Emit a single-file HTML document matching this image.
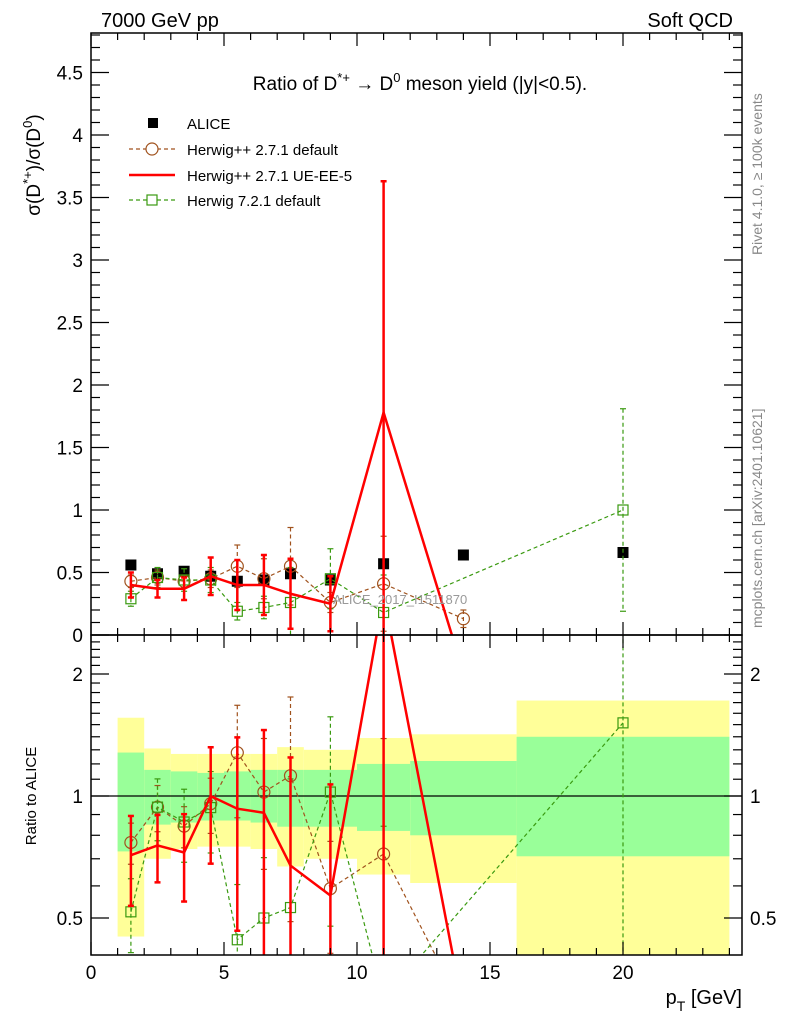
<!DOCTYPE html>
<html><head><meta charset="utf-8"><style>
html,body{margin:0;padding:0;background:#fff;overflow:hidden}
svg{display:block;font-family:"Liberation Sans",sans-serif}
</style></head><body>
<svg id="chart" width="786" height="1024" viewBox="0 0 786 1024">
<rect x="0" y="0" width="786" height="1024" fill="#fff"/>
<g id="bands"></g>
<g id="marks"></g>
<g id="axes"></g>
<text x="101" y="27" font-size="20">7000 GeV pp</text>
<text x="733" y="27" font-size="20" text-anchor="end">Soft QCD</text>
<text x="420" y="90" font-size="19" text-anchor="middle">Ratio of D<tspan dy="-8" font-size="13">*+</tspan><tspan dy="8"> → D</tspan><tspan dy="-8" font-size="13">0</tspan><tspan dy="8"> meson yield (|y|&lt;0.5).</tspan></text>
<g font-size="15">
 <rect x="148" y="118" width="10" height="10" fill="#000"/>
 <text x="187" y="129">ALICE</text>
 <line x1="129" y1="149" x2="175" y2="149" stroke="#a0521d" stroke-width="1.2" stroke-dasharray="4,3"/>
 <circle cx="152" cy="149" r="6" fill="#fff" stroke="#a0521d" stroke-width="1.2"/>
 <text x="187" y="155">Herwig++ 2.7.1 default</text>
 <line x1="129" y1="175" x2="175" y2="175" stroke="#f00" stroke-width="2.5"/>
 <text x="187" y="181">Herwig++ 2.7.1 UE-EE-5</text>
 <line x1="129" y1="200" x2="175" y2="200" stroke="#3a9a10" stroke-width="1.2" stroke-dasharray="4,3"/>
 <rect x="147" y="195" width="10" height="10" fill="#fff" stroke="#3a9a10" stroke-width="1.2"/>
 <text x="187" y="206">Herwig 7.2.1 default</text>
</g>
<text x="333" y="604" font-size="13" fill="#999">ALICE_2017_I1511870</text>
<text transform="translate(762,255) rotate(-90)" font-size="14" fill="#888">Rivet 4.1.0, ≥ 100k events</text>
<text transform="translate(762,628) rotate(-90)" font-size="14" fill="#888">mcplots.cern.ch [arXiv:2401.10621]</text>
<text transform="translate(40,165) rotate(-90)" font-size="19" text-anchor="middle">σ(D<tspan dy="-8" font-size="13">*+</tspan><tspan dy="8">)/σ(D</tspan><tspan dy="-8" font-size="13">0</tspan><tspan dy="8">)</tspan></text>
<text transform="translate(36,796) rotate(-90)" font-size="15" text-anchor="middle">Ratio to ALICE</text>
<text x="742" y="1004" font-size="20" text-anchor="end">p<tspan dy="7" font-size="14">T</tspan><tspan dy="-7"> [GeV]</tspan></text>
</svg>
<script>
const xCenters=[1.5,2.5,3.5,4.5,5.5,6.5,7.5,9,11,14,20];
const binLo=[1,2,3,4,5,6,7,8,10,12,16];
const binHi=[2,3,4,5,6,7,8,10,12,16,24];
const aliceVals=[0.56,0.49,0.51,0.47,0.43,0.44,0.49,0.44,0.57,0.64,0.66];
const bandYellowHi=[1.56,1.31,1.27,1.27,1.27,1.27,1.32,1.30,1.39,1.42,1.72];
const bandYellowLo=[0.45,0.70,0.74,0.75,0.75,0.74,0.67,0.70,0.64,0.61,0.30];
const bandGreenHi=[1.28,1.16,1.15,1.14,1.15,1.16,1.16,1.16,1.20,1.22,1.40];
const bandGreenLo=[0.73,0.85,0.86,0.87,0.87,0.86,0.84,0.84,0.82,0.80,0.71];
const hppX=[1.5,2.5,3.5,4.5,5.5,6.5,7.5,9,11,14];
const hppVals=[0.43,0.46,0.43,0.45,0.55,0.45,0.55,0.26,0.41,0.13];
const hppErr=[0.05,0.06,0.05,0.07,0.17,0.16,0.31,0.08,0.38,0.07];
const ueX=[1.5,2.5,3.5,4.5,5.5,6.5,7.5,9,11,14];
const ueVals=[0.40,0.37,0.37,0.47,0.40,0.40,0.33,0.25,1.78,-0.3];
const ueErr=[0.10,0.07,0.09,0.15,0.20,0.24,0.28,0.22,1.85,0.1];
const h7X=[1.5,2.5,3.5,4.5,5.5,6.5,7.5,9,11,20];
const h7Vals=[0.29,0.46,0.44,0.44,0.19,0.22,0.26,0.45,0.18,1.0];
const h7Err=[0.06,0.08,0.09,0.10,0.07,0.09,0.28,0.24,0.30,0.81];
const mainTicks=[0,0.5,1,1.5,2,2.5,3,3.5,4,4.5];
const mainTickLabels=["0","0.5","1","1.5","2","2.5","3","3.5","4","4.5"];
const ratioTicks=[0.5,1,2];
const xTicks=[0,5,10,15,20];

const NS="http://www.w3.org/2000/svg";
const X0=91,X1=742,XS=26.6;
const MT=33,MB=635,RT=635,RB=955;
const sx=v=>X0+v*XS;
const sy=v=>MB-v*125;
const rLog=v=>796-Math.log2(v)*122;
const ry=v=>v<=0?1010:Math.min(1010,rLog(v));
function el(tag,attrs,parent){const e=document.createElementNS(NS,tag);for(const k in attrs)e.setAttribute(k,attrs[k]);parent.appendChild(e);return e;}
const svg=document.getElementById('chart');
const marks=document.getElementById('marks');
const bands=document.getElementById('bands');
const axes=document.getElementById('axes');
const defs=el('defs',{},svg);
const c1=el('clipPath',{id:'cm'},defs);el('rect',{x:X0,y:MT,width:X1-X0,height:MB-MT},c1);
const c2=el('clipPath',{id:'cr'},defs);el('rect',{x:X0,y:RT,width:X1-X0,height:RB-RT},c2);
const gm=el('g',{'clip-path':'url(#cm)'},marks);


const gr=el('g',{'clip-path':'url(#cr)'},marks);



for(let i=0;i<binLo.length;i++){
  const y=el('rect',{x:sx(binLo[i]),y:ry(bandYellowHi[i]),width:sx(binHi[i])-sx(binLo[i]),height:Math.min(RB,ry(bandYellowLo[i]))-ry(bandYellowHi[i]),fill:'#ffff99'},bands);
  
  
  const g=el('rect',{x:sx(binLo[i]),y:ry(bandGreenHi[i]),width:sx(binHi[i])-sx(binLo[i]),height:ry(bandGreenLo[i])-ry(bandGreenHi[i]),fill:'#99ff99'},bands);
  
  
}
el('line',{x1:X0,y1:ry(1),x2:X1,y2:ry(1),stroke:'#000','stroke-width':1.2},bands);

function aliceAt(x){return aliceVals[xCenters.indexOf(x)];}
function series(xs,vals,errs,color,dash,width,marker,name){
  [[gm,1],[gr,0]].forEach(([g,isMain])=>{
    const yv=(i)=>isMain?sy(vals[i]):ry(vals[i]/aliceAt(xs[i]));
    const pts=xs.map((x,i)=>sx(x)+','+yv(i)).join(' ');
    const pl=el('polyline',{points:pts,fill:'none',stroke:color,'stroke-width':width,'stroke-dasharray':dash||'none'},g);
    
    
    xs.forEach((x,i)=>{
      const a=1/aliceAt(x);
      const yl=isMain?Math.min(sy(vals[i]-errs[i]),1010):ry((vals[i]-errs[i])*a);
      const yh=isMain?sy(vals[i]+errs[i]):ry((vals[i]+errs[i])*a);
      const e=el('line',{x1:sx(x),x2:sx(x),y1:yh,y2:yl,stroke:color,'stroke-width':width,'stroke-dasharray':dash||'none'},g);
      
      
      el('line',{x1:sx(x)-3,x2:sx(x)+3,y1:yh,y2:yh,stroke:color,'stroke-width':width},g);
      el('line',{x1:sx(x)-3,x2:sx(x)+3,y1:yl,y2:yl,stroke:color,'stroke-width':width},g);
      const y=yv(i);
      if(marker==='circle'){const m=el('circle',{cx:sx(x),cy:y,r:6,fill:'none',stroke:color,'stroke-width':1.2},g);
        }
      if(marker==='square'){const m=el('rect',{x:sx(x)-5,y:y-5,width:10,height:10,fill:'none',stroke:color,'stroke-width':1.2},g);
        }
    });
  });
}
xCenters.forEach((x,i)=>{
  const r=el('rect',{x:sx(x)-5.5,y:sy(aliceVals[i])-5.5,width:11,height:11,fill:'#000'},gm);
  
  
});
series(hppX,hppVals,hppErr,'#a0521d','4,3',1.2,'circle','herwigpp-default');
series(h7X,h7Vals,h7Err,'#3a9a10','4,3',1.2,'square','herwig7-default');
series(ueX,ueVals,ueErr,'#f00',null,2.5,null,'herwigpp-ueee5');

el('rect',{x:X0,y:MT,width:X1-X0,height:MB-MT,fill:'none',stroke:'#000','stroke-width':1.5},axes);
el('rect',{x:X0,y:RT,width:X1-X0,height:RB-RT,fill:'none',stroke:'#000','stroke-width':1.5},axes);
for(let v=0;v<=24;v++){
  const L=(v%5===0)?13:7;
  [[MB,MT],[RB,RT]].forEach(([b,t])=>{
    el('line',{x1:sx(v),x2:sx(v),y1:b,y2:b-L,stroke:'#000','stroke-width':1.2},axes);
    el('line',{x1:sx(v),x2:sx(v),y1:t,y2:t+L,stroke:'#000','stroke-width':1.2},axes);
  });
}
xTicks.forEach(v=>{const t=el('text',{x:sx(v),y:979,'font-size':19,'text-anchor':'middle'},axes);t.textContent=String(v);
  });
for(let k=0;k<=48;k++){const v=k/10;const y=sy(v);if(y<MT)break;const L=(k%5===0)?18:9;
  el('line',{x1:X0,x2:X0+L,y1:y,y2:y,stroke:'#000','stroke-width':1.2},axes);
  el('line',{x1:X1,x2:X1-L,y1:y,y2:y,stroke:'#000','stroke-width':1.2},axes);}
mainTicks.forEach((v,i)=>{const t=el('text',{x:83,y:sy(v)+7,'font-size':19,'text-anchor':'end'},axes);t.textContent=mainTickLabels[i];
  });
const rminor=[0.5,0.6,0.7,0.8,0.9,1,1.1,1.2,1.3,1.4,1.5,1.6,1.7,1.8,1.9,2,2.1,2.2,2.3,2.4];
rminor.forEach(v=>{const y=ry(v);const L=ratioTicks.includes(v)?18:9;
  el('line',{x1:X0,x2:X0+L,y1:y,y2:y,stroke:'#000','stroke-width':1.2},axes);
  el('line',{x1:X1,x2:X1-L,y1:y,y2:y,stroke:'#000','stroke-width':1.2},axes);});
ratioTicks.forEach(v=>{
  const a=el('text',{x:83,y:ry(v)+7,'font-size':19,'text-anchor':'end'},axes);a.textContent=String(v);
  
  const b=el('text',{x:750,y:ry(v)+7,'font-size':19},axes);b.textContent=String(v);
  
});
</script>
</body></html>
